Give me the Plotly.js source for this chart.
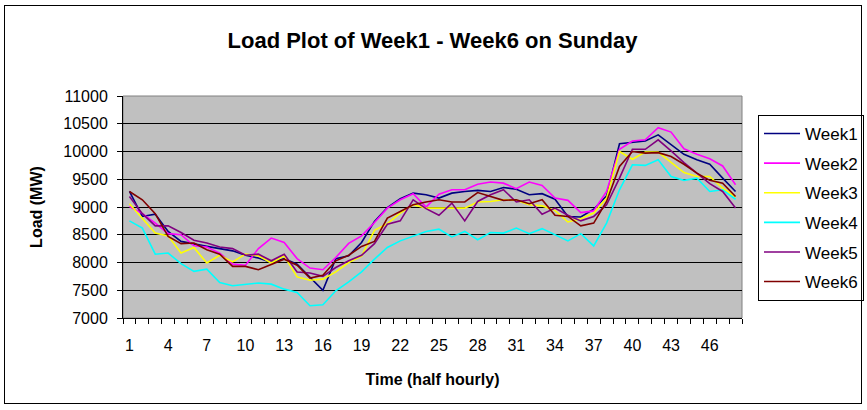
<!DOCTYPE html>
<html>
<head>
<meta charset="utf-8">
<script src="https://cdn.plot.ly/plotly-3.0.1.min.js"></script>
<style>
html,body{margin:0;padding:0;background:#fff;}
#chart{position:absolute;left:0;top:0;width:867px;height:410px;}
#frame{position:absolute;left:4px;top:5px;width:856px;height:397px;border:1px solid #000;pointer-events:none;}
</style>
</head>
<body>
<div id="chart"></div>
<div id="frame"></div>
<script>
const halfHours = [1,2,3,4,5,6,7,8,9,10,11,12,13,14,15,16,17,18,19,20,21,22,23,24,
                   25,26,27,28,29,30,31,32,33,34,35,36,37,38,39,40,41,42,43,44,45,46,47,48];
const xTickVals = [1,4,7,10,13,16,19,22,25,28,31,34,37,40,43,46];
const xTickLabels = ['1','4','7','10','13','16','19','22','25','28','31','34','37','40','43','46'];
const seriesNames = ['Week1','Week2','Week3','Week4','Week5','Week6'];

const week1 = [9280,8830,8870,8560,8380,8330,8290,8250,8210,8130,8080,8000,8070,7970,7730,7500,
               8070,8120,8360,8740,8990,9150,9250,9220,9160,9250,9280,9300,9280,9350,9320,9220,
               9240,9140,8830,8820,8960,9200,10140,10160,10190,10300,10130,9950,9850,9770,9520,9280];
const week2 = [9010,8880,8710,8520,8500,8300,8280,8170,7970,7950,8250,8440,8360,8070,7900,7870,
               8090,8345,8480,8720,8980,9130,9240,9000,9230,9310,9310,9410,9450,9430,9330,9450,
               9390,9160,9120,8900,8930,9280,10040,10190,10210,10430,10350,10050,9950,9870,9740,9400];
const week3 = [9060,8800,8530,8480,8170,8270,7990,8130,8010,8150,8120,7990,8120,7740,7680,7700,
               7830,8000,8115,8580,8700,8890,9040,8980,8980,8980,8980,9090,9100,9130,9120,9040,
               9020,8940,8730,8790,8890,9160,10000,9860,9990,9990,9810,9620,9550,9550,9340,9180];
const week4 = [8750,8620,8150,8170,7980,7840,7880,7640,7580,7610,7630,7610,7520,7460,7220,7240,
               7490,7650,7830,8060,8270,8390,8480,8560,8600,8460,8560,8410,8540,8530,8620,8520,
               8610,8500,8390,8520,8300,8710,9310,9760,9750,9850,9550,9480,9520,9280,9310,9140];
const week5 = [9190,8880,8660,8660,8540,8400,8350,8280,8250,8130,8150,8030,8150,7830,7810,7750,
               7910,8030,8130,8340,8690,8750,9130,8970,8850,9070,8750,9100,9220,9310,9090,9130,
               8870,8980,8850,8750,8830,9040,9520,10040,10040,10210,10010,9800,9610,9420,9280,8980];
const week6 = [9280,9130,8880,8470,8340,8350,8230,8150,7930,7930,7870,7970,8060,7950,7720,7770,
               8030,8130,8290,8380,8800,8920,9040,9090,9130,9090,9090,9260,9190,9120,9130,9060,
               9130,8850,8830,8660,8710,9100,9730,10000,9970,9980,9910,9770,9610,9480,9430,9190];

const seriesValues = [week1, week2, week3, week4, week5, week6];
const seriesColors = ['#000080','#FF00FF','#FFFF00','#00FFFF','#800080','#800000'];

const FONT = 'Liberation Sans, Arial, sans-serif';

const traces = seriesValues.map((vals, i) => ({
  type: 'scatter',
  mode: 'lines',
  name: seriesNames[i],
  legendgroup: 'g' + i,
  x: halfHours,
  y: vals,
  line: {color: seriesColors[i], width: 1.6}
}));

const layout = {
  width: 867,
  height: 410,
  margin: {l: 123, r: 125, t: 96, b: 92, pad: 0, autoexpand: false},
  paper_bgcolor: 'rgba(0,0,0,0)',
  plot_bgcolor: '#C0C0C0',
  font: {family: FONT, size: 16, color: '#000'},
  title: {
    text: '<b>Load Plot of Week1 - Week6 on Sunday</b>',
    font: {family: FONT, size: 22, color: '#000'},
    x: 0.5, xref: 'paper', xanchor: 'center',
    y: 1 - 40/410, yref: 'container', yanchor: 'middle'
  },
  xaxis: {
    range: [0.5, 48.5],
    tickmode: 'array',
    tickvals: xTickVals,
    ticktext: xTickLabels,
    ticks: 'outside',
    ticklen: 5,
    tickcolor: 'rgba(0,0,0,0)',
    ticklabelstandoff: 8,
    tickfont: {family: FONT, size: 16, color: '#000'},
    minor: {ticks: 'outside', tickmode: 'linear', tick0: 0.5, dtick: 1, ticklen: 5, tickcolor: '#000', tickwidth: 1, showgrid: false},
    showgrid: false,
    zeroline: false,
    showline: true,
    linecolor: '#000',
    linewidth: 1,
    title: {text: '<b>Time (half hourly)</b>', font: {family: FONT, size: 16, color: '#000'}, standoff: 20},
    fixedrange: true
  },
  yaxis: {
    range: [7000, 11000],
    tickmode: 'linear',
    tick0: 7000,
    dtick: 500,
    tickformat: 'd',
    ticks: 'outside',
    ticklen: 5,
    tickcolor: '#000',
    ticklabelstandoff: 6,
    tickfont: {family: FONT, size: 16, color: '#000'},
    showgrid: true,
    gridcolor: '#000',
    gridwidth: 1,
    zeroline: false,
    showline: true,
    linecolor: '#000',
    linewidth: 1,
    title: {text: '<b>Load (MW)</b>', font: {family: FONT, size: 16, color: '#000'}, standoff: 16},
    fixedrange: true
  },
  shapes: [{
    type: 'rect', xref: 'paper', yref: 'paper', x0: 0, x1: 1, y0: 0, y1: 1,
    line: {color: '#808080', width: 1}, fillcolor: 'rgba(0,0,0,0)', layer: 'below'
  }],
  showlegend: true,
  legend: {
    x: (758 - 123) / 619,
    xanchor: 'left',
    y: (318 - 115) / 222,
    yanchor: 'top',
    bgcolor: '#fff',
    bordercolor: '#000',
    borderwidth: 1,
    font: {family: FONT, size: 17, color: '#000'},
    itemwidth: 36,
    tracegroupgap: 4.5,
    traceorder: 'grouped'
  }
};

Plotly.newPlot('chart', traces, layout, {displayModeBar: false, staticPlot: true});
</script>
</body>
</html>
